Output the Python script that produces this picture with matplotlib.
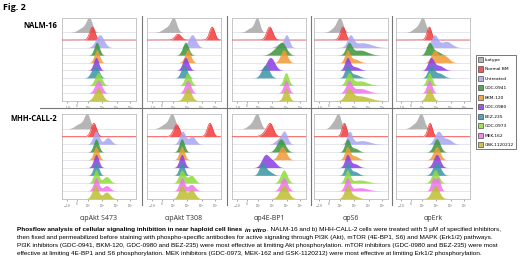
import numpy as np
import matplotlib.pyplot as plt
from matplotlib.patches import Patch

# sample order (top ridge to bottom ridge) and colours
samples = ['Isotype', 'Normal BM', 'Untreated', 'GDC-0941', 'BKM-120',
           'GDC-0980', 'BEZ-235', 'GDC-0973', 'MEK-162', 'GSK-1120212']
colors = ['#a8a8a8', '#f23c3c', '#a7a7f4', '#3b963b', '#f29a36',
          '#8a3ce4', '#3a96a2', '#90dc3c', '#f272f0', '#bdbd32']
markers = ['αpAkt S473', 'αpAkt T308', 'αp4E-BP1', 'αpS6', 'αpErk']
cell_lines = ['NALM-16', 'MHH-CALL-2']

# ridge shapes, x as fraction of the axis
# (peak, width, second peak, second width, second weight)
nalm_akt473 = [(.37, .04, .28, .06, .35), (.41, .035, 0, 1, 0), (.51, .055, 0, 1, 0),
               (.47, .035, 0, 1, 0), (.47, .035, 0, 1, 0), (.46, .035, 0, 1, 0),
               (.46, .04, .40, .035, .3), (.49, .045, 0, 1, 0), (.49, .045, 0, 1, 0),
               (.49, .05, 0, 1, 0)]
nalm_akt308 = [(.36, .04, .27, .06, .35), (.88, .035, .42, .04, .45), (.61, .05, 0, 1, 0),
               (.52, .04, 0, 1, 0), (.55, .04, 0, 1, 0), (.52, .04, 0, 1, 0),
               (.50, .04, 0, 1, 0), (.55, .04, 0, 1, 0), (.55, .04, 0, 1, 0),
               (.55, .045, 0, 1, 0)]
nalm_4ebp1 = [(.34, .035, .25, .05, .3), (.51, .04, 0, 1, 0), (.74, .035, .65, .05, .3),
              (.68, .055, .58, .06, .4), (.70, .045, 0, 1, 0), (.52, .055, 0, 1, 0),
              (.45, .05, 0, 1, 0), (.73, .035, 0, 1, 0), (.73, .035, 0, 1, 0),
              (.73, .035, 0, 1, 0)]
nalm_s6 = [(.35, .04, .27, .05, .3), (.39, .035, 0, 1, 0), (.49, .04, .65, .12, .45),
           (.47, .04, .62, .10, .45), (.45, .035, .55, .06, .3), (.45, .035, .55, .06, .3),
           (.45, .035, .55, .06, .3), (.47, .04, .62, .10, .4), (.47, .04, .62, .10, .4),
           (.47, .045, .62, .12, .45)]
nalm_erk = [(.36, .04, .27, .05, .3), (.45, .03, 0, 1, 0), (.52, .045, .68, .07, .5),
            (.45, .04, .55, .05, .3), (.52, .045, .65, .06, .6), (.47, .04, .58, .06, .4),
            (.47, .04, .58, .06, .4), (.45, .035, 0, 1, 0), (.45, .035, 0, 1, 0),
            (.45, .04, 0, 1, 0)]

mhh_akt473 = [(.34, .04, .24, .06, .35), (.43, .035, 0, 1, 0), (.46, .04, .62, .045, .5),
              (.46, .035, 0, 1, 0), (.46, .035, 0, 1, 0), (.46, .035, 0, 1, 0),
              (.46, .035, 0, 1, 0), (.46, .035, .60, .045, .5), (.46, .035, .60, .045, .4),
              (.45, .04, .60, .045, .5)]
mhh_akt308 = [(.34, .04, .25, .06, .35), (.85, .035, .40, .04, .9), (.48, .04, .61, .045, .6),
              (.47, .035, 0, 1, 0), (.47, .035, 0, 1, 0), (.47, .035, 0, 1, 0),
              (.47, .035, 0, 1, 0), (.47, .04, .60, .045, .6), (.47, .035, .60, .045, .5),
              (.47, .04, .60, .045, .7)]
mhh_4ebp1 = [(.34, .04, .26, .05, .3), (.52, .04, .45, .045, .3), (.71, .04, .63, .05, .4),
             (.66, .055, 0, 1, 0), (.68, .05, 0, 1, 0), (.45, .05, .55, .05, .5),
             (.41, .04, .50, .05, .3), (.70, .045, 0, 1, 0), (.70, .045, 0, 1, 0),
             (.70, .055, 0, 1, 0)]
mhh_s6 = [(.33, .035, .26, .04, .4), (.41, .03, 0, 1, 0), (.48, .035, .65, .10, .3),
          (.45, .035, .55, .05, .3), (.45, .035, .55, .05, .3), (.45, .035, .55, .05, .3),
          (.45, .035, .55, .05, .3), (.45, .035, .62, .10, .25), (.45, .035, .62, .10, .25),
          (.45, .04, .55, .05, .2)]
mhh_erk = [(.34, .04, .25, .05, .3), (.46, .03, 0, 1, 0), (.57, .05, .70, .055, .4),
           (.55, .045, 0, 1, 0), (.55, .045, 0, 1, 0), (.55, .045, 0, 1, 0),
           (.55, .05, 0, 1, 0), (.53, .045, 0, 1, 0), (.50, .03, .57, .03, 1.0),
           (.53, .05, 0, 1, 0)]

panels = [[nalm_akt473, nalm_akt308, nalm_4ebp1, nalm_s6, nalm_erk],
          [mhh_akt473, mhh_akt308, mhh_4ebp1, mhh_s6, mhh_erk]]

tick_pos = [0.07, 0.20, 0.35, 0.54, 0.74, 0.92]
tick_labels = ['$-10^2$', '0', '$10^2$', '$10^3$', '$10^4$', '$10^5$']

W, H = 520, 260
fig = plt.figure(figsize=(W / 100, H / 100), dpi=100)

col_left = [62, 147, 232, 314, 396]
col_w = 74
row_top = [18, 114]
row_bot = [101, 199]

x = np.linspace(0, 1, 500)
n = len(samples)
for r in range(2):
    for c in range(5):
        ax = fig.add_axes([col_left[c] / W, 1 - row_bot[r] / H, col_w / W,
                           (row_bot[r] - row_top[r]) / H])
        for i, (mu, sd, mu2, sd2, w2) in enumerate(panels[r][c]):
            base = n - 1 - i
            y = np.exp(-0.5 * ((x - mu) / sd) ** 2) + w2 * np.exp(-0.5 * ((x - mu2) / sd2) ** 2)
            y = y / y.max() * (2.0 if i == 0 else 1.7)
            ax.axhline(base, color='#dcdce8', lw=0.5, zorder=0.5)
            ax.fill_between(x, base, base + y, color=colors[i], alpha=0.85, lw=0, zorder=2 + i)
            if samples[i] == 'Normal BM':
                ax.plot(x, base + y, color=colors[i], lw=0.5, zorder=2 + i)
        ax.set_xlim(0, 1)
        ax.set_ylim(-0.05, 10.9)
        ax.set_yticks([])
        ax.set_xticks(tick_pos)
        ax.set_xticklabels(tick_labels)
        ax.tick_params(axis='x', length=1.5, width=0.4, labelsize=2, pad=0.8,
                       colors='#666666')
        for s in ax.spines.values():
            s.set_color('#bdbdbd')
            s.set_linewidth(0.6)
        if r == 1:
            fig.text((col_left[c] + col_w / 2) / W, 1 - 218 / H, markers[c],
                     ha='center', va='center', fontsize=5, color='#333333',
                     family='Open Sans')

# separator lines of the panel collage
for xs in [142, 227, 311, 392]:
    fig.add_artist(plt.Line2D([xs / W, xs / W], [1 - 16 / H, 1 - 205 / H],
                              color='#777777', lw=0.8))
fig.add_artist(plt.Line2D([40 / W, 472 / W], [1 - 108 / H, 1 - 108 / H],
                          color='#777777', lw=0.8))

fig.text(3 / W, 1 - 7 / H, 'Fig. 2', fontsize=6.5, fontweight='bold', va='center',
         family='Open Sans')
fig.text(57 / W, 1 - 25 / H, cell_lines[0], fontsize=5.5, fontweight='bold',
         ha='right', va='center', family='Open Sans')
fig.text(57 / W, 1 - 119 / H, cell_lines[1], fontsize=5.5, fontweight='bold',
         ha='right', va='center', family='Open Sans')

handles = [Patch(facecolor=col, edgecolor='#333333', lw=0.5, alpha=0.85) for col in colors]
leg = fig.legend(handles, samples, loc='upper left', bbox_to_anchor=(476 / W, 1 - 55 / H),
                 fontsize=3.2, handlelength=1.2, handleheight=1.4, labelspacing=0.97,
                 handletextpad=0.4, borderpad=0.45, borderaxespad=0, frameon=True,
                 fancybox=False)
leg.get_frame().set_edgecolor('#555555')
leg.get_frame().set_linewidth(0.7)

# caption with mixed styles
renderer = fig.canvas.get_renderer()
cap_fs = 4.6


def put_runs(xp, yp, runs):
    for txt, kw, gap in runs:
        t = fig.text(xp / W, 1 - yp / H, txt, fontsize=cap_fs, family='Liberation Sans',
                     va='center', ha='left', **kw)
        xp += t.get_window_extent(renderer).width + gap


put_runs(17, 230, [('Phosflow analysis of cellular signaling inhibition in near haploid cell lines',
                    dict(fontweight='bold'), 3.0),
                   ('in vitro', dict(fontweight='bold', fontstyle='italic'), 0.3),
                   ('. NALM-16 and b) MHH-CALL-2 cells were treated with 5 µM of specified inhibitors,',
                    {}, 0)])
cap_lines = [
    'then fixed and permeabilized before staining with phospho-specific antibodies for active signaling through PI3K (Akt), mTOR (4E-BP1, S6) and MAPK (Erk1/2) pathways.',
    'PI3K inhibitors (GDC-0941, BKM-120, GDC-0980 and BEZ-235) were most effective at limiting Akt phosphorylation. mTOR inhibitors (GDC-0980 and BEZ-235) were most',
    'effective at limiting 4E-BP1 and S6 phosphorylation. MEK inhibitors (GDC-0973, MEK-162 and GSK-1120212) were most effective at limiting Erk1/2 phosphorylation.',
]
for k, line in enumerate(cap_lines):
    fig.text(17 / W, 1 - (238 + 8 * k) / H, line, fontsize=cap_fs, family='Liberation Sans',
             va='center', ha='left')

fig.savefig('out.png', dpi=100)
